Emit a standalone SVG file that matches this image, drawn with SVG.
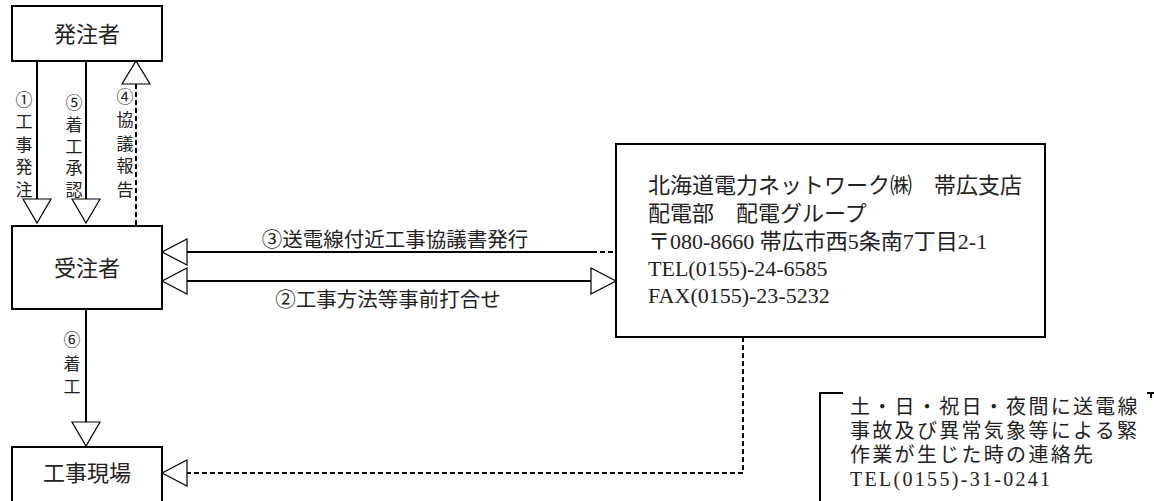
<svg xmlns="http://www.w3.org/2000/svg" width="1154" height="501" viewBox="0 0 1154 501">
<style>
.box{fill:#fff;stroke:#000;stroke-width:2}
.ln{fill:none;stroke:#000;stroke-width:2}
.dash{stroke-dasharray:5 3}
.head{fill:#fff;stroke:#000;stroke-width:1.2}
text{font-family:"Liberation Serif","Noto Sans CJK JP",serif;fill:#222}
.lbl{font-size:22px;text-anchor:middle}
.v{font-size:17px;text-anchor:middle;dominant-baseline:central}
.h{font-size:20.5px;text-anchor:middle}
.info{font-size:22px}
.note{font-size:20px;letter-spacing:2.3px}
</style>
<rect width="1154" height="501" fill="#fff"/>
<g id="connectors">
  <line class="ln" x1="37" y1="61" x2="37" y2="199"/>
  <polygon class="head" points="23,199 51,199 37,223"/>
  <line class="ln" x1="86" y1="61" x2="86" y2="199"/>
  <polygon class="head" points="72,199 100,199 86,223"/>
  <line class="ln dash" x1="136" y1="84" x2="136" y2="226"/>
  <polygon class="head" points="122,84 150,84 136,61"/>
  <line class="ln" x1="187" y1="252" x2="592" y2="252"/>
  <line class="ln dash" x1="592" y1="252" x2="616" y2="252"/>
  <polygon class="head" points="162,252 187,239 187,265"/>
  <line class="ln" x1="187" y1="281" x2="591" y2="281"/>
  <polygon class="head" points="162,281 187,268 187,294"/>
  <polygon class="head" points="616,281 591,268 591,294"/>
  <line class="ln" x1="86" y1="309" x2="86" y2="422"/>
  <polygon class="head" points="72,422 100,422 86,446"/>
  <polyline class="ln dash" points="743,337 743,473 187,473"/>
  <polygon class="head" points="162,473 187,460 187,486"/>
  <text class="v" x="24" y="100">①</text><text class="v" x="24" y="122.5">工</text><text class="v" x="24" y="145">事</text><text class="v" x="24" y="167.5">発</text><text class="v" x="24" y="190">注</text>
  <text class="v" x="74" y="103">⑤</text><text class="v" x="74" y="125">着</text><text class="v" x="74" y="147">工</text><text class="v" x="74" y="168">承</text><text class="v" x="74" y="190">認</text>
  <text class="v" x="125" y="97">④</text><text class="v" x="125" y="120">協</text><text class="v" x="125" y="144">議</text><text class="v" x="125" y="166">報</text><text class="v" x="125" y="190">告</text>
  <text class="v" x="72" y="340">⑥</text><text class="v" x="72" y="364">着</text><text class="v" x="72" y="387">工</text>
  <text class="h" x="395" y="247">③送電線付近工事協議書発行</text>
  <text class="h" x="388" y="307">②工事方法等事前打合せ</text>
</g>
<g id="hatchusha">
  <rect class="box" x="12" y="6" width="150" height="55"/>
  <text class="lbl" x="87" y="42">発注者</text>
</g>
<g id="juchusha">
  <rect class="box" x="12" y="226" width="150" height="83"/>
  <text class="lbl" x="87" y="276">受注者</text>
</g>
<g id="genba">
  <rect class="box" x="12" y="447" width="150" height="70"/>
  <text class="lbl" x="87" y="481">工事現場</text>
</g>
<g id="hepco">
  <rect class="box" x="616" y="144" width="429" height="193"/>
  <text class="info" x="648" y="193">北海道電力ネットワーク㈱　帯広支店</text>
  <text class="info" x="648" y="221">配電部　配電グループ</text>
  <text class="info" x="648" y="249">〒080-8660 帯広市西5条南7丁目2-1</text>
  <text class="info" x="648" y="276">TEL(0155)-24-6585</text>
  <text class="info" x="648" y="303">FAX(0155)-23-5232</text>
</g>
<g id="note">
  <polyline class="ln" points="843,393 820,393 820,510"/>
  <polyline class="ln" points="1147,393 1154,393"/>
  <line class="ln" x1="1151" y1="393" x2="1151" y2="398"/>
  <text class="note" x="850" y="414">土・日・祝日・夜間に送電線</text>
  <text class="note" x="850" y="438">事故及び異常気象等による緊</text>
  <text class="note" x="850" y="462">作業が生じた時の連絡先</text>
  <text class="note" x="850" y="486">TEL(0155)-31-0241</text>
</g>
</svg>
